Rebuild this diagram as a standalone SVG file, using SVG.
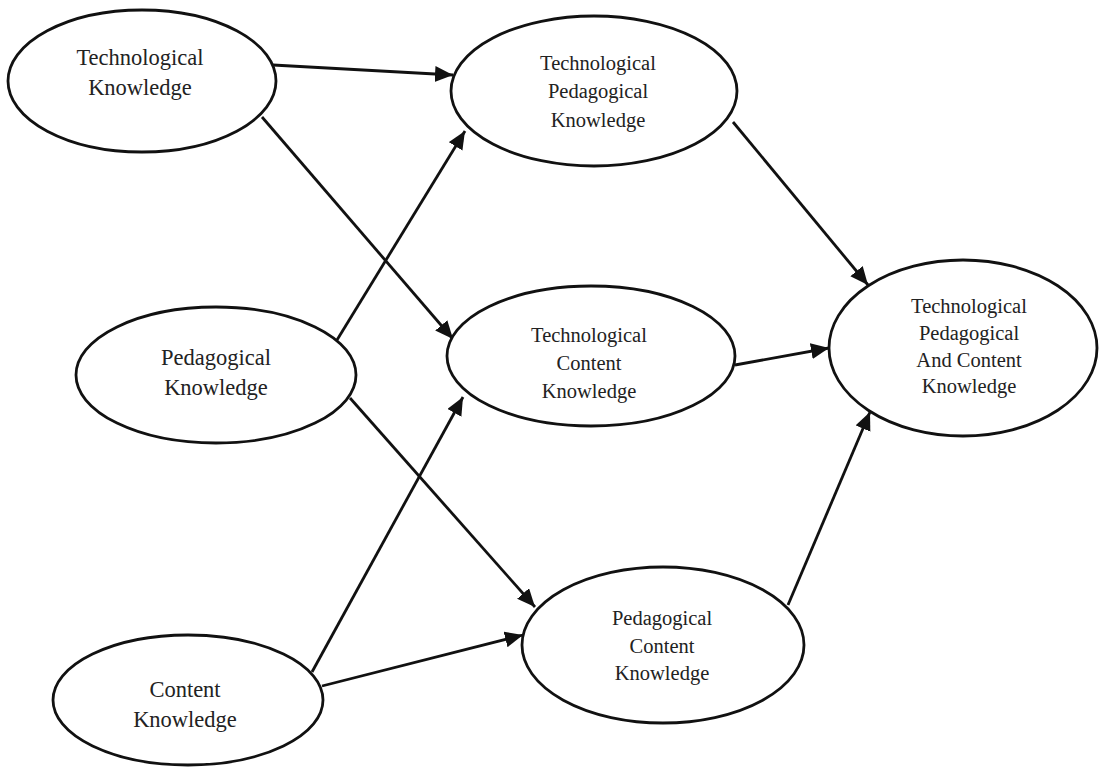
<svg xmlns="http://www.w3.org/2000/svg" width="1099" height="767" viewBox="0 0 1099 767">
<style>
.node ellipse{fill:#fff;stroke:#111;stroke-width:2.8}
.node text{font-family:"Liberation Serif","DejaVu Serif",serif;fill:#222;text-anchor:middle}
.big text{font-size:22.5px}
.small text{font-size:20.5px}
.conn line{stroke:#111;stroke-width:2.8}
</style>
<defs>
<marker id="ah" markerUnits="userSpaceOnUse" markerWidth="20" markerHeight="18" refX="18" refY="8" orient="auto">
<path d="M0,0 L18,8 L0,16 Z" fill="#111"/>
</marker>
</defs>
<rect width="1099" height="767" fill="#fff"/>
<g class="conn">
<line x1="273" y1="65" x2="453" y2="75" marker-end="url(#ah)"/>
<line x1="262" y1="117" x2="453" y2="339" marker-end="url(#ah)"/>
<line x1="337" y1="340" x2="465" y2="131" marker-end="url(#ah)"/>
<line x1="350" y1="398" x2="535" y2="607" marker-end="url(#ah)"/>
<line x1="312" y1="672" x2="463" y2="397" marker-end="url(#ah)"/>
<line x1="322" y1="686" x2="523" y2="635" marker-end="url(#ah)"/>
<line x1="733" y1="122" x2="868" y2="285" marker-end="url(#ah)"/>
<line x1="735" y1="365" x2="829" y2="348" marker-end="url(#ah)"/>
<line x1="788" y1="605" x2="870" y2="412" marker-end="url(#ah)"/>
</g>
<g id="tk" class="node big">
<ellipse cx="142" cy="81" rx="134" ry="71"/>
<text x="140" y="65">Technological</text>
<text x="140" y="95">Knowledge</text>
</g>
<g id="pk" class="node big">
<ellipse cx="216" cy="375" rx="140" ry="68"/>
<text x="216" y="365">Pedagogical</text>
<text x="216" y="395">Knowledge</text>
</g>
<g id="ck" class="node big">
<ellipse cx="188" cy="700" rx="135" ry="65"/>
<text x="185" y="697">Content</text>
<text x="185" y="727">Knowledge</text>
</g>
<g id="tpk" class="node small">
<ellipse cx="594" cy="91" rx="143" ry="75"/>
<text x="598" y="70">Technological</text>
<text x="598" y="98">Pedagogical</text>
<text x="598" y="127">Knowledge</text>
</g>
<g id="tck" class="node small">
<ellipse cx="591" cy="356" rx="144" ry="70"/>
<text x="589" y="342">Technological</text>
<text x="589" y="370">Content</text>
<text x="589" y="398">Knowledge</text>
</g>
<g id="pck" class="node small">
<ellipse cx="663" cy="645" rx="141" ry="78"/>
<text x="662" y="625">Pedagogical</text>
<text x="662" y="653">Content</text>
<text x="662" y="680">Knowledge</text>
</g>
<g id="tpack" class="node small">
<ellipse cx="963" cy="348" rx="134" ry="88"/>
<text x="969" y="313">Technological</text>
<text x="969" y="340">Pedagogical</text>
<text x="969" y="367">And Content</text>
<text x="969" y="393">Knowledge</text>
</g>
</svg>
